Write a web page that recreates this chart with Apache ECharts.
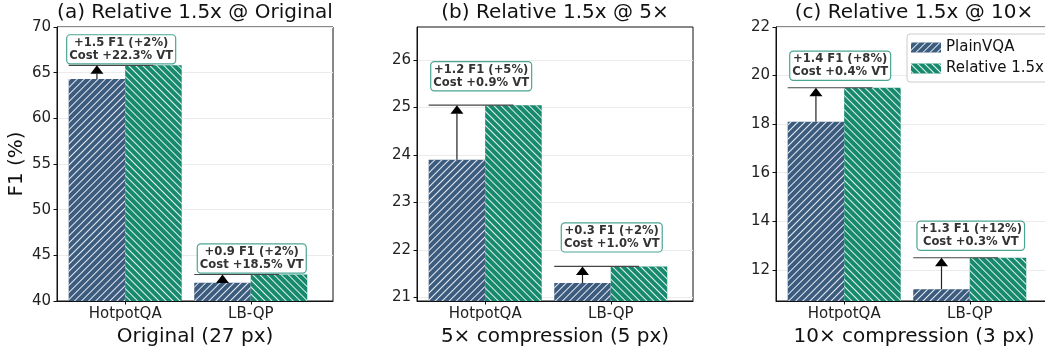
<!DOCTYPE html>
<html>
<head>
<meta charset="utf-8">
<script src="https://cdn.jsdelivr.net/npm/echarts@6/dist/echarts.min.js"></script>
<style>html,body{margin:0;padding:0;background:#fff}#c{width:1045px;height:351px}</style>
</head>
<body>
<div id="c"></div>
<script>
// ---- data ----
const categories = ['HotpotQA', 'LB-QP'];
const seriesNames = ['PlainVQA', 'Relative 1.5x'];
const panelTitles = ['(a) Relative 1.5x @ Original', '(b) Relative 1.5x @ 5\u00d7', '(c) Relative 1.5x @ 10\u00d7'];
const panelXNames = ['Original (27 px)', '5\u00d7 compression (5 px)', '10\u00d7 compression (3 px)'];
const plainA = [64.3, 42.0];
const relA = [65.8, 42.9];
const plainB = [23.9, 21.3];
const relB = [25.05, 21.65];
const plainC = [18.1, 11.2];
const relC = [19.5, 12.5];
const annotA = ['+1.5 F1 (+2%)\nCost +22.3% VT', '+0.9 F1 (+2%)\nCost +18.5% VT'];
const annotB = ['+1.2 F1 (+5%)\nCost +0.9% VT', '+0.3 F1 (+2%)\nCost +1.0% VT'];
const annotC = ['+1.4 F1 (+8%)\nCost +0.4% VT', '+1.3 F1 (+12%)\nCost +0.3% VT'];
const ticksA = [40, 45, 50, 55, 60, 65, 70];
const ticksB = [21, 22, 23, 24, 25, 26];
const ticksC = [12, 14, 16, 18, 20, 22];
const rangeA = [40, 70];
const rangeB = [20.92, 26.70];
const rangeC = [10.72, 22];
const xRange = [-0.543, 1.655];

// ---- styles ----
const FONT = 'DejaVu Sans';
const BAR_FRAC = 0.45;
const colors = ['#3b5b7f', '#178a6e'];
const gridLefts = [57, 417, 776];
const GRID_W = 276, GRID_TOP = 27, GRID_H = 274;
const boxGap = [2, 15, 8];
const labelDx = [-4, 1];

const panels = [
  {plain: plainA, rel: relA, ann: annotA, ticks: ticksA, range: rangeA},
  {plain: plainB, rel: relB, ann: annotB, ticks: ticksB, range: rangeB},
  {plain: plainC, rel: relC, ann: annotC, ticks: ticksC, range: rangeC}
];

function hatch(dir) {
  return {symbol: 'rect', symbolSize: 1, dashArrayX: [1, 0], dashArrayY: [1, 3.7],
          rotation: dir * Math.PI / 4, color: 'rgba(255,255,255,0.88)'};
}

const option = {
  animation: false,
  backgroundColor: '#fff',
  textStyle: {fontFamily: FONT},
  title: [], grid: [], xAxis: [], yAxis: [], series: [],
  legend: {
    data: seriesNames, orient: 'vertical', left: 907, top: 34,
    backgroundColor: '#fff', borderColor: '#cccccc', borderWidth: 1, borderRadius: 3,
    padding: [6, 8, 6, 4], itemWidth: 30, itemHeight: 10, itemGap: 6, icon: 'rect',
    textStyle: {fontFamily: FONT, fontSize: 15, color: '#111'}
  }
};

panels.forEach((p, k) => {
  option.title.push({
    text: panelTitles[k], left: gridLefts[k] + GRID_W / 2, top: 3, textAlign: 'center', padding: 0,
    textStyle: {fontFamily: FONT, fontSize: 20, fontWeight: 'normal', color: '#111'}
  });
  option.grid.push({
    left: gridLefts[k], top: GRID_TOP, width: GRID_W, height: GRID_H,
    show: true, borderColor: '#111', borderWidth: 1, backgroundColor: 'transparent',
    containLabel: false, outerBoundsMode: 'none'
  });
  option.xAxis.push({
    type: 'value', gridIndex: k, min: xRange[0], max: xRange[1],
    name: panelXNames[k], nameLocation: 'middle', nameGap: 21,
    nameTextStyle: {fontFamily: FONT, fontSize: 20, color: '#111'},
    axisLine: {show: true, onZero: false, lineStyle: {color: '#111', width: 1}},
    axisTick: {show: true, length: 3.5, customValues: [0, 1], lineStyle: {color: '#111'}},
    axisLabel: {show: true, customValues: [0, 1], margin: 6, fontFamily: FONT, fontSize: 15, color: '#222',
                formatter: v => categories[Math.round(v)]},
    splitLine: {show: false}
  });
  option.yAxis.push({
    type: 'value', gridIndex: k, min: p.range[0], max: p.range[1],
    name: k === 0 ? 'F1 (%)' : '', nameLocation: 'middle', nameGap: 30,
    nameTextStyle: {fontFamily: FONT, fontSize: 20, color: '#111'},
    axisLine: {show: true, onZero: false, lineStyle: {color: '#111', width: 1}},
    axisTick: {show: true, length: 3.5, customValues: p.ticks, lineStyle: {color: '#111'}},
    axisLabel: {show: true, customValues: p.ticks, margin: 6, fontFamily: FONT, fontSize: 15, color: '#222'},
    splitLine: {show: true, lineStyle: {color: '#ebebeb', width: 1}}
  });
  [p.plain, p.rel].forEach((vals, s) => {
    option.series.push({
      type: 'bar', name: seriesNames[s], xAxisIndex: k, yAxisIndex: k,
      data: vals.map((v, i) => [i, v]),
      barWidth: (BAR_FRAC * 100) + '%', barGap: '0%',
      itemStyle: {color: colors[s], decal: hatch(s === 0 ? -1 : 1)},
      emphasis: {disabled: true}, z: 2
    });
  });
  option.series.push({
    type: 'custom', xAxisIndex: k, yAxisIndex: k, clip: false, z: 5, silent: true,
    data: categories.map((c, i) => [i, p.plain[i], p.rel[i]]),
    renderItem: (params, api) => {
      const i = api.value(0), vp = api.value(1), vr = api.value(2);
      const xA = api.coord([i - BAR_FRAC / 2, vr])[0];
      const yR = api.coord([i, vr])[1];
      const yP = api.coord([i, vp])[1];
      const xL = api.coord([i - BAR_FRAC, vr])[0];
      const xE = api.coord([i + BAR_FRAC / 2, vr])[0];
      const xC = api.coord([i, vr])[0];
      const headH = 8.5, headW = 6.5;
      return {type: 'group', children: [
        {type: 'line', shape: {x1: xL, y1: yR, x2: xE, y2: yR}, style: {stroke: '#444', lineWidth: 1.2}},
        {type: 'line', shape: {x1: xA, y1: yP, x2: xA, y2: yR + headH}, style: {stroke: '#222', lineWidth: 1.2}},
        {type: 'polygon', shape: {points: [[xA - headW, yR + headH], [xA + headW, yR + headH], [xA, yR]]},
         style: {fill: '#000'}},
        {type: 'text', style: {
          text: p.ann[i], x: xC + labelDx[i], y: yR - boxGap[k], align: 'center', verticalAlign: 'bottom',
          font: 'bold 11.6px "DejaVu Sans"', lineHeight: 13, fill: '#333',
          backgroundColor: '#fff', borderColor: '#4aa593', borderWidth: 1.2, borderRadius: 3,
          padding: [1, 2, 1, 2]
        }}
      ]};
    }
  });
});

const chart = echarts.init(document.getElementById('c'), null, {renderer: 'canvas'});
chart.setOption(option);
</script>
</body>
</html>
